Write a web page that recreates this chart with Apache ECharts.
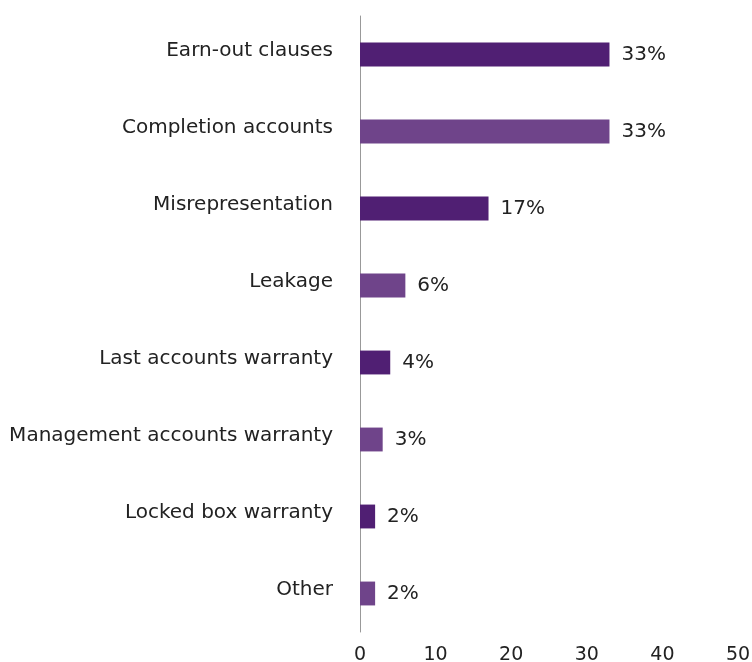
<!DOCTYPE html>
<html>
<head>
<meta charset="utf-8">
<script src="https://cdn.jsdelivr.net/npm/echarts@6/dist/echarts.min.js"></script>
<style>
  html, body { margin: 0; padding: 0; background: #fff; }
  #chart { width: 752px; height: 662px; }
</style>
</head>
<body>
<div id="chart"></div>
<script>
// Dispute causes, listed top to bottom
const categories = [
  'Earn-out clauses',
  'Completion accounts',
  'Misrepresentation',
  'Leakage',
  'Last accounts warranty',
  'Management accounts warranty',
  'Locked box warranty',
  'Other'
];
const values = [33, 33, 17, 6, 4, 3, 2, 2];
const xTicks = [0, 10, 20, 30, 40, 50];

const darkPurple = '#501f73';
const lightPurple = '#6f448a';
const fontFamily = '"DejaVu Sans", sans-serif';
const textColor = '#222';

const chart = echarts.init(document.getElementById('chart'));

chart.setOption({
  animation: false,
  grid: {
    left: 360, right: 14, top: 16, bottom: 30,
    containLabel: false,
    outerBoundsMode: 'none'
  },
  xAxis: {
    type: 'value',
    min: xTicks[0],
    max: xTicks[xTicks.length - 1],
    interval: 10,
    axisLine: { show: false },
    axisTick: { show: false },
    splitLine: { show: false },
    axisLabel: {
      color: textColor,
      fontSize: 19,
      fontFamily: fontFamily,
      margin: 14
    }
  },
  yAxis: {
    type: 'category',
    inverse: true,
    data: categories,
    axisLine: { show: true, lineStyle: { color: '#999', width: 1 } },
    axisTick: { show: false },
    axisLabel: {
      color: textColor,
      fontSize: 20,
      fontFamily: fontFamily,
      margin: 27,
      // sit the category names slightly above the bar centre
      verticalAlign: 'bottom',
      lineHeight: 8
    }
  },
  series: [{
    type: 'bar',
    data: values.map((v, i) => ({
      value: v,
      itemStyle: { color: i % 2 === 0 ? darkPurple : lightPurple }
    })),
    barCategoryGap: '69%',
    label: {
      show: true,
      position: 'right',
      distance: 12,
      formatter: '{c}%',
      color: textColor,
      fontSize: 20,
      fontFamily: fontFamily
    }
  }]
});
</script>
</body>
</html>
